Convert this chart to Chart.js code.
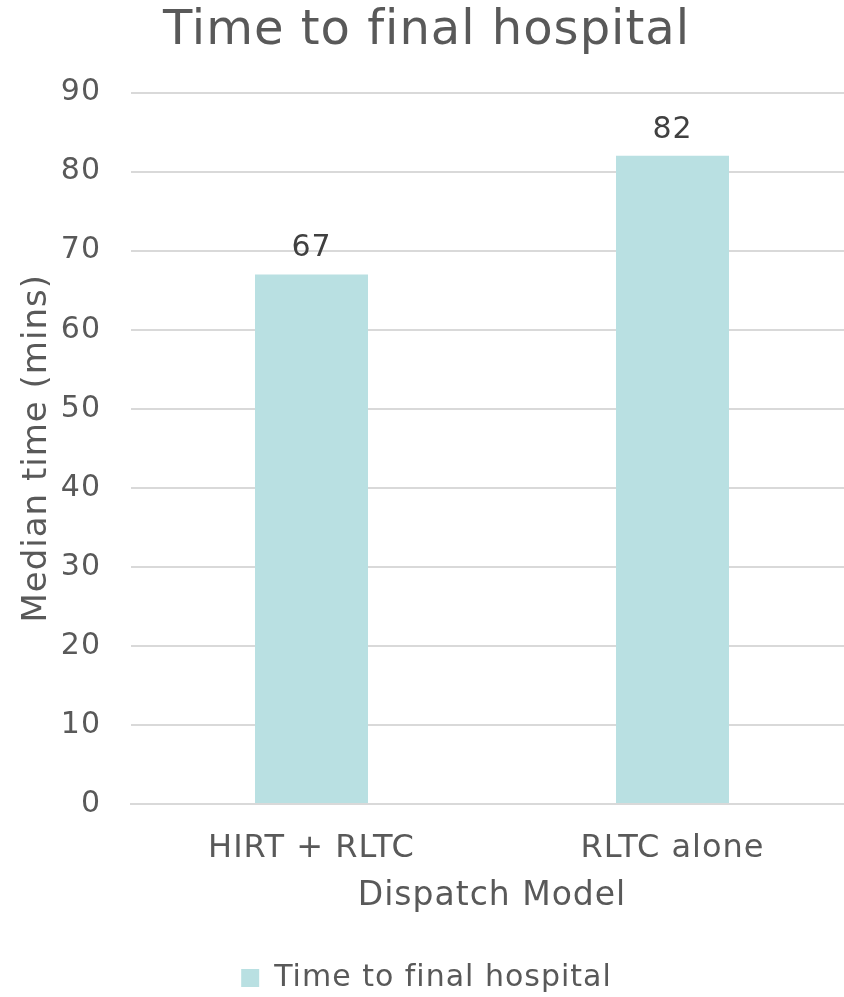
<!DOCTYPE html>
<html>
<head>
<meta charset="utf-8">
<script src="https://cdn.jsdelivr.net/npm/chart.js@4.4.0/dist/chart.umd.min.js"></script>
<style>
  html, body { margin: 0; padding: 0; background: #ffffff; overflow: hidden; }
  #wrap { width: 844px; height: 997px; position: relative; overflow: hidden; }
</style>
</head>
<body>
<div id="wrap"><canvas id="c" width="853" height="1003"></canvas></div>
<script>
const categories = ["HIRT + RLTC", "RLTC alone"];
const seriesName = "Time to final hospital";
const seriesValues = [67, 82];
const yTicks = [0, 10, 20, 30, 40, 50, 60, 70, 80, 90];

const FONT = "'DejaVu Sans', Verdana, sans-serif";
const TEXT = "#595959";

const spacing = {
  id: "spacing",
  beforeUpdate(chart) { chart.ctx.letterSpacing = "1px"; },
  beforeLayout(chart) { chart.ctx.letterSpacing = "1px"; },
  beforeDraw(chart) { chart.ctx.letterSpacing = "1px"; }
};

const valueLabels = {
  id: "valueLabels",
  afterDatasetsDraw(chart) {
    const ctx = chart.ctx;
    ctx.save();
    ctx.font = "30px " + FONT;
    ctx.fillStyle = "#404040";
    ctx.textAlign = "center";
    ctx.textBaseline = "middle";
    chart.getDatasetMeta(0).data.forEach((el, i) => {
      ctx.fillText(String(seriesValues[i]), el.x, el.y - 26);
    });
    ctx.restore();
  }
};

new Chart(document.getElementById("c"), {
  type: "bar",
  data: {
    labels: categories,
    datasets: [{
      label: seriesName,
      data: seriesValues,
      backgroundColor: "#b9e0e2",
      borderWidth: 0,
      categoryPercentage: 1.0,
      barPercentage: 0.313
    }]
  },
  options: {
    responsive: false,
    animation: false,
    devicePixelRatio: 1,
    layout: { padding: { left: 0, right: 0, top: 0, bottom: 0 } },
    plugins: {
      title: {
        display: true,
        text: "Time to final hospital",
        color: TEXT,
        font: { family: FONT, size: 48, weight: "normal" },
        padding: { top: 3, bottom: 32 }
      },
      legend: {
        display: true,
        position: "bottom",
        labels: {
          color: TEXT,
          font: { family: FONT, size: 30, lineHeight: 0.8 },
          boxWidth: 18,
          boxHeight: 18,
          padding: 0
        }
      },
      tooltip: { enabled: false }
    },
    scales: {
      x: {
        grid: { display: false, drawTicks: false },
        border: { display: true, color: "#d9d9d9", width: 2 },
        ticks: { color: TEXT, font: { family: FONT, size: 32 }, padding: 25 },
        title: {
          display: true,
          text: "Dispatch Model",
          color: TEXT,
          font: { family: FONT, size: 33 },
          padding: { top: -16, bottom: 47 }
        }
      },
      y: {
        min: 0,
        max: 90,
        afterBuildTicks(axis) { axis.ticks = yTicks.map(v => ({ value: v })); },
        grid: { color: "#d9d9d9", lineWidth: 2, drawTicks: false },
        border: { display: false },
        ticks: { color: TEXT, font: { family: FONT, size: 30 }, padding: 30 },
        title: {
          display: true,
          text: "Median time (mins)",
          color: TEXT,
          font: { family: FONT, size: 34 },
          padding: { top: 17, bottom: 0 }
        },
        afterFit(axis) { axis.width = 131; }
      }
    }
  },
  plugins: [spacing, valueLabels]
});
</script>
</body>
</html>
